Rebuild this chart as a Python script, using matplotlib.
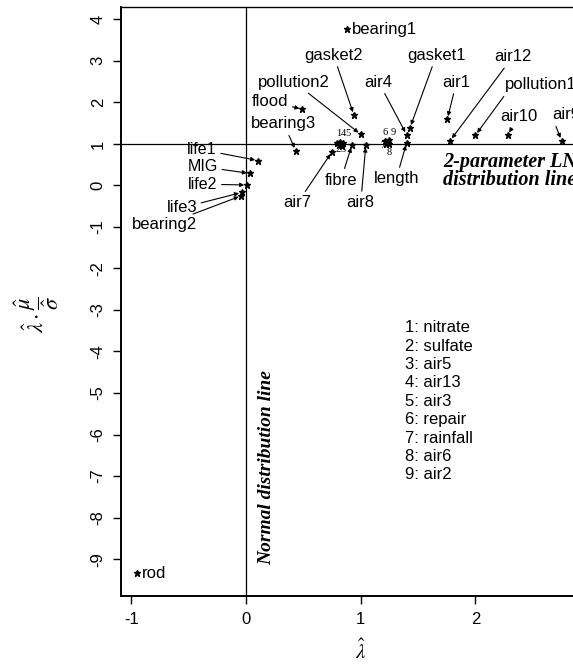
import matplotlib
matplotlib.use("Agg")
import matplotlib.pyplot as plt

plt.rcParams["font.family"] = ["Liberation Sans", "DejaVu Sans"]
plt.rcParams["mathtext.fontset"] = "stix"

# labelled data sets: lambda-hat, lambda-hat * mu-hat / sigma-hat
names = ["bearing1", "gasket2", "pollution2", "flood", "bearing3", "life1", "MIG",
         "life2", "life3", "bearing2", "air7", "fibre", "air8", "length", "air4",
         "gasket1", "air1", "air12", "pollution1", "air10", "air9", "rod"]
lam = [0.879, 0.94, 1.0, 0.49, 0.433, 0.104, 0.032,
       0.009, -0.037, -0.04, 0.75, 0.924, 1.045, 1.40, 1.40,
       1.43, 1.755, 1.78, 2.0, 2.28, 2.75, -0.952]
lmu = [3.76, 1.70, 1.23, 1.84, 0.84, 0.60, 0.29,
       0.01, -0.17, -0.25, 0.81, 0.975, 0.98, 1.03, 1.22,
       1.39, 1.60, 1.08, 1.21, 1.22, 1.08, -9.34]
# where each name is written
lab_x = [0.92, 0.763, 0.42, 0.21, 0.33, -0.384, -0.377,
         -0.377, -0.56, -0.71, 0.45, 0.827, 1.0, 1.31, 1.156,
         1.66, 1.835, 2.325, 2.26, 2.38, 2.665, -0.91]
lab_y = [3.76, 3.14, 2.49, 2.01, 1.48, 0.86, 0.45,
         0.03, -0.54, -0.95, -0.42, 0.13, -0.42, 0.157, 2.49,
         3.14, 2.49, 3.10, 2.42, 1.65, 1.70, -9.34]
no_arrow = ["bearing1", "rod"]

# numbered cluster points
num_ids = ["1", "2", "3", "4", "5", "6", "7", "8", "9"]
num_names = ["nitrate", "sulfate", "air5", "air13", "air3", "repair", "rainfall", "air6", "air2"]
num_x = [0.79, 0.81, 0.84, 0.82, 0.85, 1.21, 1.22, 1.245, 1.25]
num_y = [1.03, 0.97, 0.96, 1.05, 1.01, 1.07, 1.00, 1.00, 1.09]
num_lx = [0.81, 0.80, 0.845, 0.85, 0.89, 1.21, 1.19, 1.25, 1.28]
num_ly = [1.24, 0.855, 0.855, 1.24, 1.24, 1.27, 0.97, 0.79, 1.27]

fig = plt.figure(figsize=(5.73, 6.64), dpi=100)
ax = fig.add_axes([0.211, 0.103, 0.819, 0.886])
ax.set_xlim(-1.09, 3.0)
ax.set_ylim(-9.88, 4.29)

ax.axhline(1, color="black", lw=0.9)
ax.axvline(0, color="black", lw=0.9)

ax.plot(lam, lmu, ls="none", marker="*", ms=5, color="black")
ax.plot(num_x, num_y, ls="none", marker="*", ms=5, color="black")

for n, x, y, tx, ty in zip(names, lam, lmu, lab_x, lab_y):
    fs = 11.5 if n in ("life1", "MIG", "life2") else 12
    if n in no_arrow:
        ax.text(tx, ty, n, fontsize=fs, ha="left", va="center")
    elif n in ("pollution1", "air9"):
        ax.annotate(n, xy=(x, y), xytext=(tx, ty), fontsize=fs, ha="left", va="center",
                    arrowprops=dict(arrowstyle="-|>", lw=0.8, color="black",
                                    mutation_scale=6, shrinkA=1, shrinkB=2, relpos=(0.05, 0.2)))
    else:
        ax.annotate(n, xy=(x, y), xytext=(tx, ty), fontsize=fs, ha="center", va="center",
                    arrowprops=dict(arrowstyle="-|>", lw=0.8, color="black",
                                    mutation_scale=6, shrinkA=1, shrinkB=2))

for i, x, y in zip(num_ids, num_lx, num_ly):
    ax.text(x, y, i, fontsize=7.5, ha="center", va="center", family="Liberation Serif")

legend_txt = "\n".join(f"{i}: {n}" for i, n in zip(num_ids, num_names))
ax.text(1.39, -3.25, legend_txt, fontsize=12, ha="left", va="top", linespacing=1.28)

ax.text(0.18, -6.8, "Normal distribution line", rotation=90, ha="center", va="center",
        fontsize=14, family="Liberation Serif", weight="bold", style="italic")
ax.text(1.72, 0.35, "2-parameter LN\ndistribution line", ha="left", va="center",
        fontsize=14.5, family="Liberation Serif", weight="bold", style="italic", linespacing=0.9)

ax.set_xticks([-1, 0, 1, 2])
ax.set_xticklabels(["-1", "0", "1", "2"])
ax.set_yticks(range(-9, 5))
ax.set_yticklabels([str(v) for v in range(-9, 5)], rotation=90, va="center")
ax.tick_params(labelsize=12, length=6, width=1, pad=6, direction="out")
ax.tick_params(axis="y", pad=5)

for s in ["left", "bottom"]:
    ax.spines[s].set_linewidth(1.4)
ax.spines["top"].set_linewidth(1.0)
ax.spines["right"].set_visible(False)

ax.annotate(r"$\hat{\lambda}$", xy=(1, 0), xycoords=("data", "axes fraction"),
            xytext=(0, -40), textcoords="offset points", ha="center", va="center", fontsize=15)
fig.text(37 / 573, 1 - 314 / 664, r"$\hat{\lambda}\cdot\dfrac{\hat{\mu}}{\hat{\sigma}}$",
         rotation=90, ha="center", va="center", fontsize=16)

fig.savefig("out.png", dpi=100)
